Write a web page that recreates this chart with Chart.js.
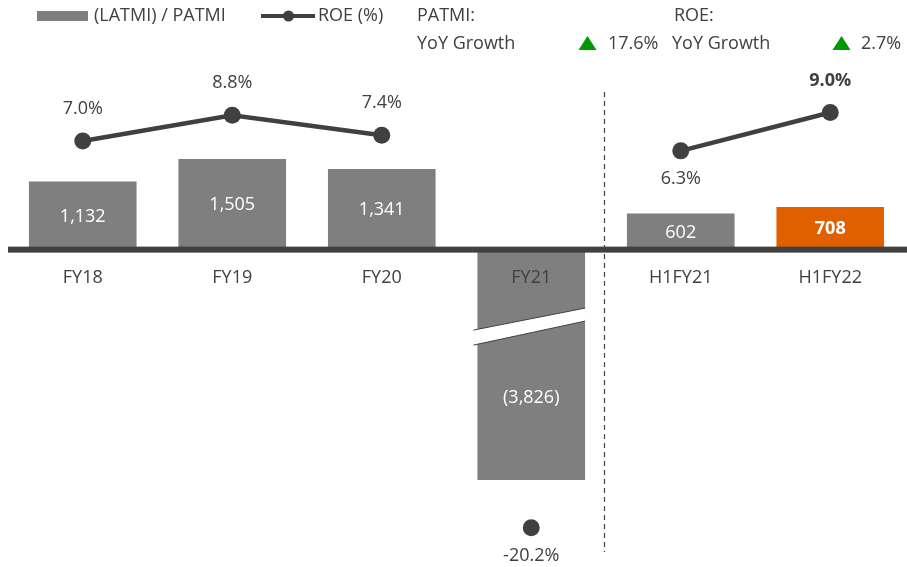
<!DOCTYPE html>
<html>
<head>
<meta charset="utf-8">
<script src="https://cdn.jsdelivr.net/npm/chart.js@4"></script>
<style>
  html, body { margin: 0; padding: 0; background: #fff; }
  #wrap { width: 907px; height: 567px; position: relative; }
</style>
</head>
<body>
<div id="wrap"><canvas id="c" width="907" height="567"></canvas></div>
<script>
// ---- data ----
const categories = ['FY18', 'FY19', 'FY20', 'FY21', 'H1FY21', 'H1FY22'];
const patmi = [1132, 1505, 1341, -3826, 602, 708];          // (LATMI) / PATMI
const roe = [7.0, 8.8, 7.4, -20.2, 6.3, 9.0];                // ROE (%)
const roeLabelSide = ['above', 'above', 'above', 'below', 'below', 'above'];
const highlighted = [false, false, false, false, false, true];
const legendLabels = ['(LATMI) / PATMI', 'ROE (%)'];
const growthNames = ['PATMI:', 'ROE:'];
const growthValues = [17.6, 2.7];
const brokenIndex = 3;        // FY21 bar is drawn with an axis break
const dividerAfter = 3;       // full years | half years

// ---- style ----
const FONT = '"Open Sans", "Noto Sans", sans-serif';
const DARK = '#404040';
const GREY = '#7f7f7f';
const ORANGE = '#e06000';
const GREEN = '#009a00';

const fmtNum = v => {
  const s = Math.abs(v).toLocaleString('en-US');
  return v < 0 ? '(' + s + ')' : s;
};
const fmtPct = v => v.toFixed(1) + '%';

const overlay = {
  id: 'overlay',
  beforeDatasetsDraw(chart) {
    const ctx = chart.ctx;
    const xs = chart.scales.x;
    // dashed divider between full-year and half-year figures
    const xd = (xs.getPixelForValue(dividerAfter) + xs.getPixelForValue(dividerAfter + 1)) / 2 - 1.5;
    ctx.save();
    ctx.strokeStyle = DARK;
    ctx.lineWidth = 1.2;
    ctx.setLineDash([5, 4]);
    ctx.beginPath();
    ctx.moveTo(xd, 92);
    ctx.lineTo(xd, 552);
    ctx.stroke();
    ctx.restore();
  },
  afterDatasetsDraw(chart) {
    const ctx = chart.ctx;
    const xs = chart.scales.x;
    const ys = chart.scales.y;
    const area = chart.chartArea;
    const z = ys.getPixelForValue(0);
    const bars = chart.getDatasetMeta(0).data;
    const pts = chart.getDatasetMeta(1).data;
    ctx.save();

    // axis break across the FY21 bar
    const bb = bars[brokenIndex];
    const bl = bb.x - bb.width / 2 - 4, br = bb.x + bb.width / 2;
    ctx.fillStyle = '#ffffff';
    ctx.beginPath();
    ctx.moveTo(bl, z + 80.5);
    ctx.lineTo(br, z + 58.5);
    ctx.lineTo(br + 1, z + 71.5);
    ctx.lineTo(bl, z + 95.5);
    ctx.closePath();
    ctx.fill();
    ctx.strokeStyle = DARK;
    ctx.lineWidth = 1;
    ctx.beginPath();
    ctx.moveTo(bl, z + 80.5); ctx.lineTo(br, z + 58.5);
    ctx.moveTo(bl, z + 95.5); ctx.lineTo(br, z + 71.5);
    ctx.stroke();

    // zero line
    ctx.fillStyle = DARK;
    ctx.fillRect(area.left, z - 3, chart.width - area.left, 6);

    // value labels inside the bars
    ctx.textAlign = 'center';
    ctx.textBaseline = 'middle';
    ctx.fillStyle = '#ffffff';
    bars.forEach((b, i) => {
      ctx.font = (highlighted[i] ? 'bold ' : '') + '18px ' + FONT;
      let y = (b.y + b.base) / 2;
      if (i === brokenIndex) y = b.base + (b.y - b.base) * 0.638;
      ctx.fillText(fmtNum(patmi[i]), b.x, y + 1);
    });

    // category labels below the zero line
    ctx.fillStyle = DARK;
    ctx.font = '18px ' + FONT;
    categories.forEach((c, i) => {
      ctx.fillText(c, xs.getPixelForValue(i), z + 28);
    });

    // ROE labels
    pts.forEach((p, i) => {
      ctx.font = (highlighted[i] ? 'bold ' : '') + '18px ' + FONT;
      const y = roeLabelSide[i] === 'above' ? p.y - 32 : p.y + 28;
      ctx.fillText(fmtPct(roe[i]), p.x, y);
    });

    // legend
    ctx.font = '18px ' + FONT;
    ctx.textAlign = 'left';
    ctx.fillStyle = GREY;
    ctx.fillRect(37, 11, 51, 10);
    ctx.fillStyle = DARK;
    ctx.fillText(legendLabels[0], 94, 16);
    ctx.strokeStyle = DARK;
    ctx.lineWidth = 4;
    ctx.beginPath();
    ctx.moveTo(261, 16); ctx.lineTo(315, 16);
    ctx.stroke();
    ctx.beginPath();
    ctx.arc(288.5, 16, 5.5, 0, Math.PI * 2);
    ctx.fill();
    ctx.fillText(legendLabels[1], 318, 16);

    // year-on-year growth notes
    const cols = [{ x: 417, tri: 587.5, val: 608 }, { x: 672, tri: 841.5, val: 861 }];
    growthNames.forEach((name, i) => {
      const c = cols[i];
      ctx.fillStyle = DARK;
      ctx.fillText(name, c.x + (i === 1 ? 2 : 0), 16);
      ctx.fillText('YoY Growth', c.x, 44);
      ctx.fillText(fmtPct(growthValues[i]), c.val, 44);
      ctx.fillStyle = GREEN;
      ctx.beginPath();
      ctx.moveTo(c.tri, 36);
      ctx.lineTo(c.tri + 9, 50);
      ctx.lineTo(c.tri - 9, 50);
      ctx.closePath();
      ctx.fill();
    });
    ctx.restore();
  }
};

new Chart(document.getElementById('c'), {
  data: {
    labels: categories,
    datasets: [
      {
        type: 'bar',
        label: legendLabels[0],
        data: patmi,
        yAxisID: 'y',
        backgroundColor: patmi.map((v, i) => highlighted[i] ? ORANGE : GREY),
        borderWidth: 0,
        categoryPercentage: 1,
        barPercentage: 0.72,
        order: 2
      },
      {
        type: 'line',
        label: legendLabels[1],
        data: roe,
        yAxisID: 'y1',
        borderColor: DARK,
        borderWidth: 4.5,
        backgroundColor: DARK,
        pointBackgroundColor: DARK,
        pointBorderWidth: 0,
        pointRadius: 8.5,
        tension: 0,
        segment: {
          borderColor: ctx => (ctx.p0DataIndex === brokenIndex || ctx.p1DataIndex === brokenIndex) ? 'rgba(0,0,0,0)' : DARK
        },
        order: 1
      }
    ]
  },
  options: {
    responsive: false,
    animation: false,
    devicePixelRatio: 1,
    layout: { autoPadding: false, padding: { left: 8, right: 2, top: 60, bottom: 7 } },
    plugins: { legend: { display: false }, tooltip: { enabled: false }, title: { display: false } },
    scales: {
      x: { display: false, offset: true, grid: { display: false } },
      y: { display: false, min: -5156, max: 3150 },
      y1: { display: false, position: 'right', min: -22.47, max: 12.69 }
    }
  },
  plugins: [overlay]
});
</script>
</body>
</html>
